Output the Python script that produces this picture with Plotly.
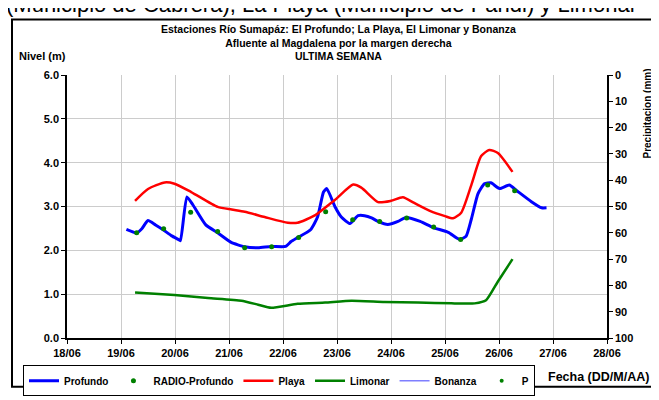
import pandas as pd
import plotly.graph_objects as go

# --- datos (dia de junio con fraccion, nivel en m) ---
profundo_dia = [19.10, 19.29, 19.39, 19.50, 19.64, 19.78, 19.94, 20.06, 20.10, 20.22,
                20.33, 20.57, 20.79, 21.04, 21.29, 21.54, 21.78, 22.05, 22.15, 22.27,
                22.51, 22.64, 22.75, 22.81, 22.96, 23.08, 23.24, 23.39, 23.51, 23.64,
                23.76, 23.94, 24.13, 24.28, 24.54, 24.78, 25.06, 25.27, 25.39, 25.49,
                25.61, 25.73, 25.85, 26.01, 26.19, 26.33, 26.60, 26.79, 26.88]
profundo_nivel = [2.48, 2.40, 2.50, 2.68, 2.58, 2.47, 2.33, 2.25, 2.22, 3.22,
                  3.04, 2.58, 2.40, 2.18, 2.08, 2.06, 2.09, 2.09, 2.20, 2.29,
                  2.47, 2.76, 3.33, 3.41, 3.00, 2.76, 2.61, 2.79, 2.79, 2.74,
                  2.66, 2.59, 2.66, 2.75, 2.66, 2.52, 2.41, 2.25, 2.32, 2.72,
                  3.29, 3.52, 3.54, 3.41, 3.49, 3.36, 3.11, 2.97, 2.97]

radio_dia = [19.29, 19.79, 20.29, 20.79, 21.29, 21.79, 22.29, 22.79, 23.29, 23.79,
             24.29, 24.79, 25.29, 25.79, 26.29]
radio_nivel = [2.40, 2.49, 2.87, 2.43, 2.06, 2.08, 2.29, 2.88, 2.70, 2.66,
               2.74, 2.53, 2.25, 3.49, 3.36]

playa_dia = [19.26, 19.50, 19.81, 19.99, 20.30, 20.79, 21.05, 21.29, 21.66, 22.09,
             22.27, 22.58, 22.96, 23.30, 23.45, 23.76, 24.00, 24.22, 24.43, 24.72,
             25.00, 25.15, 25.30, 25.49, 25.67, 25.82, 25.98, 26.25]
playa_nivel = [3.13, 3.40, 3.55, 3.52, 3.33, 2.99, 2.93, 2.88, 2.76, 2.63,
               2.63, 2.79, 3.15, 3.50, 3.43, 3.10, 3.13, 3.21, 3.08, 2.90,
               2.78, 2.73, 2.86, 3.50, 4.15, 4.29, 4.22, 3.79]

limonar_dia = [19.26, 19.99, 20.61, 21.23, 21.54, 21.78, 22.27, 22.78, 23.27, 23.88,
               24.50, 25.12, 25.55, 25.76, 25.98, 26.25]
limonar_nivel = [1.04, 0.98, 0.91, 0.85, 0.76, 0.69, 0.78, 0.81, 0.85, 0.82,
                 0.81, 0.79, 0.79, 0.86, 1.29, 1.80]

# sin datos en la semana
bonanza_dia, bonanza_nivel = [None], [None]
p_dia, p_mm = [None], [None]

fecha_ticks = ["18/06", "19/06", "20/06", "21/06", "22/06", "23/06",
               "24/06", "25/06", "26/06", "27/06", "28/06"]
nivel_ticks = [0, 1, 2, 3, 4, 5, 6]
precip_ticks = [0, 10, 20, 30, 40, 50, 60, 70, 80, 90, 100]

BASE = pd.Timestamp("2012-06-18")


def fechas(dias):
    return [None if d is None else BASE + pd.Timedelta(days=d - 18) for d in dias]


FONT = "Liberation Sans"

# area de trazado en pixeles (para ubicar textos fuera de ella)
L, R, T, B = 59, 599, 67, 347
W, H = R - L, B - T


def px(x):
    return (x - L) / W


def py(y):
    return (B - y) / H


fig = go.Figure()
fig.add_trace(go.Scatter(x=fechas(profundo_dia), y=profundo_nivel, mode="lines",
                         name="<b>Profundo</b>",
                         line=dict(color="#0000ff", width=3, shape="spline", smoothing=0.5)))
fig.add_trace(go.Scatter(x=fechas(radio_dia), y=radio_nivel, mode="markers",
                         name="<b>RADIO-Profundo</b>",
                         marker=dict(color="#008000", size=5)))
fig.add_trace(go.Scatter(x=fechas(playa_dia), y=playa_nivel, mode="lines",
                         name="<b>Playa</b>",
                         line=dict(color="#ff0000", width=2.5, shape="spline", smoothing=0.6)))
fig.add_trace(go.Scatter(x=fechas(limonar_dia), y=limonar_nivel, mode="lines",
                         name="<b>Limonar</b>",
                         line=dict(color="#008000", width=2.5, shape="spline", smoothing=0.5)))
fig.add_trace(go.Scatter(x=fechas(bonanza_dia), y=bonanza_nivel, mode="lines",
                         name="<b>Bonanza</b>",
                         line=dict(color="#7f7fff", width=1.5)))
fig.add_trace(go.Scatter(x=fechas(p_dia), y=p_mm, mode="markers", name="<b>P</b>",
                         marker=dict(color="#008000", size=4), yaxis="y2"))

tick_vals = [BASE + pd.Timedelta(days=i) for i in range(len(fecha_ticks))]

fig.update_layout(
    width=659, height=400,
    margin=dict(l=L, r=659 - R, t=T, b=400 - B),
    paper_bgcolor="white", plot_bgcolor="white",
    font=dict(family=FONT, size=11, color="black"),
    showlegend=True,
    legend=dict(orientation="h", x=px(15), y=py(376), xanchor="left", yanchor="top",
                bordercolor="black", borderwidth=1, bgcolor="white",
                font=dict(family=FONT, size=10, color="black"),
                itemwidth=30, tracegroupgap=0),
    xaxis=dict(range=[tick_vals[0], tick_vals[-1]], tickvals=tick_vals,
               ticktext=["<b>%s</b>" % t for t in fecha_ticks],
               showgrid=True, gridcolor="#cccccc", gridwidth=1,
               showline=True, linecolor="black", linewidth=1.5,
               ticks="outside", ticklen=4, tickcolor="black",
               tickfont=dict(size=11), zeroline=False),
    yaxis=dict(range=[0, 6], tickvals=nivel_ticks,
               ticktext=["<b>%.1f</b>" % v for v in nivel_ticks],
               showgrid=True, gridcolor="#cccccc", gridwidth=1,
               showline=True, linecolor="black", linewidth=1.5,
               ticks="outside", ticklen=4, tickcolor="black",
               tickfont=dict(size=11), zeroline=False),
    yaxis2=dict(overlaying="y", side="right", range=[100, 0],
                tickvals=precip_ticks,
                ticktext=["<b>%d</b>" % v for v in precip_ticks],
                showgrid=False, showline=True, linecolor="black", linewidth=1.5,
                ticks="outside", ticklen=4, tickcolor="black",
                tickfont=dict(size=11), zeroline=False),
)

# textos
fig.add_annotation(text="<b>Estaciones Río Sumapáz: El Profundo; La Playa, El Limonar y Bonanza</b>"
                        "<br><b>Afluente al Magdalena por la margen derecha</b>"
                        "<br><b>ULTIMA SEMANA</b>",
                   xref="paper", yref="paper", x=px(330), y=py(9),
                   xanchor="center", yanchor="top", showarrow=False,
                   font=dict(size=10.5), align="center")
fig.add_annotation(text="<b>Nivel (m)</b>", xref="paper", yref="paper",
                   x=px(9), y=py(47), xanchor="left", yanchor="middle",
                   showarrow=False, font=dict(size=11))
fig.add_annotation(text="<b>Precipitacion (mm)</b>", xref="paper", yref="paper",
                   x=px(640), y=py(108), xanchor="center", yanchor="middle",
                   textangle=-90, showarrow=False, font=dict(size=10))
fig.add_annotation(text="<b>Fecha (DD/M/AA)</b>", xref="paper", yref="paper",
                   x=px(538), y=py(388), xanchor="left", yanchor="middle",
                   showarrow=False, font=dict(size=12.5))
fig.add_annotation(text="(Municipio de Cabrera), La Playa (Municipio de Pandi) y Limonar",
                   xref="paper", yref="paper", x=px(-4), y=py(-8),
                   xanchor="left", yanchor="middle", showarrow=False,
                   font=dict(size=22, family=FONT))

# marco exterior
fig.add_shape(type="rect", xref="paper", yref="paper",
              x0=px(4), x1=px(656), y0=py(399), y1=py(8),
              line=dict(color="black", width=2), layer="below")

fig.write_html("out.html")
